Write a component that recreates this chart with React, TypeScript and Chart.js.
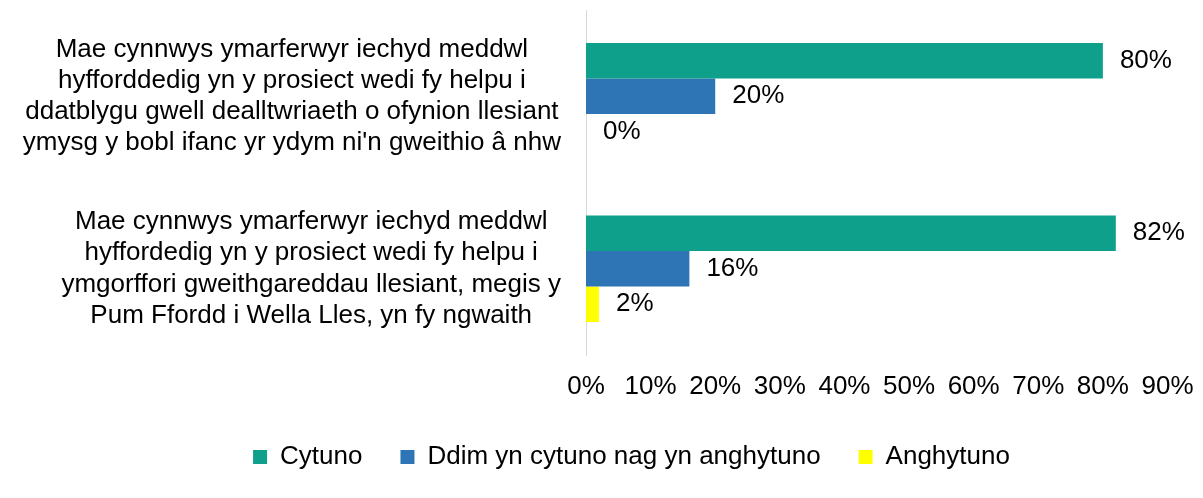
import React, { useEffect, useRef } from "react";
import { Chart, registerables } from "chart.js";

Chart.register(...registerables);

const categories: string[][] = [
  [
    "Mae cynnwys ymarferwyr iechyd meddwl",
    "hyfforddedig yn y prosiect wedi fy helpu i",
    "ddatblygu gwell dealltwriaeth o ofynion llesiant",
    "ymysg y bobl ifanc yr ydym ni'n gweithio â nhw",
  ],
  [
    "Mae cynnwys ymarferwyr iechyd meddwl",
    "hyffordedig yn y prosiect wedi fy helpu i",
    "ymgorffori gweithgareddau llesiant, megis y",
    "Pum Ffordd i Wella Lles, yn fy ngwaith",
  ],
];

const seriesNames = ["Cytuno", "Ddim yn cytuno nag yn anghytuno", "Anghytuno"];
const cytuno = [80, 82];
const ddim = [20, 16];
const anghytuno = [0, 2];
const seriesColors = ["#0FA08C", "#2E75B6", "#FFFF00"];

const xMin = 0;
const xMax = 90;
const xStep = 10;

const FONT = "'Liberation Sans', Arial, sans-serif";
const LABEL_SIZE = 26;

const dataLabelPlugin = {
  id: "dataLabels",
  afterDatasetsDraw(chart: any) {
    const ctx = chart.ctx;
    ctx.save();
    ctx.font = `${LABEL_SIZE}px ${FONT}`;
    ctx.fillStyle = "#000000";
    ctx.textAlign = "left";
    ctx.textBaseline = "middle";
    chart.data.datasets.forEach((ds: any, di: number) => {
      const meta = chart.getDatasetMeta(di);
      meta.data.forEach((bar: any, i: number) => {
        const v = ds.data[i];
        ctx.fillText(`${v}%`, bar.x + 17, bar.y);
      });
    });
    ctx.restore();
  },
};

// let the long category labels use the whole left margin, and centre each
// category's block of lines on its own widest line (block sits next to the axis)
const labelAreaPlugin = {
  id: "labelArea",
  afterLayout(chart: any) {
    if (chart.scales.y) chart.scales.y.left = 0;
  },
  beforeDraw(chart: any) {
    const scale = chart.scales.y;
    if (!scale) return;
    const items = scale.getLabelItems();
    const ctx = chart.ctx;
    ctx.save();
    ctx.font = `${LABEL_SIZE}px ${FONT}`;
    items.forEach((item: any) => {
      const lines = Array.isArray(item.label) ? item.label : [item.label];
      const w = Math.max(...lines.map((l: string) => ctx.measureText(l).width));
      item.options.translation[0] = scale.right - scale.options.ticks.padding - w / 2;
    });
    ctx.restore();
  },
};

export default function App() {
  const canvasRef = useRef<HTMLCanvasElement | null>(null);

  useEffect(() => {
    document.body.style.margin = "0";
    const canvas = canvasRef.current;
    if (!canvas) return;
    const chart = new Chart(canvas, {
      type: "bar",
      data: {
        labels: categories,
        datasets: [
          { label: seriesNames[0], data: cytuno, backgroundColor: seriesColors[0] },
          { label: seriesNames[1], data: ddim, backgroundColor: seriesColors[1] },
          { label: seriesNames[2], data: anghytuno, backgroundColor: seriesColors[2] },
        ].map((d) => ({ ...d, borderWidth: 0, barPercentage: 1, categoryPercentage: 0.618 })),
      },
      options: {
        indexAxis: "y",
        animation: false,
        responsive: true,
        maintainAspectRatio: false,
        layout: { padding: { top: 10, left: 95.5, right: 35.5, bottom: 18 } },
        plugins: {
          tooltip: { enabled: false },
          legend: {
            position: "bottom",
            labels: {
              font: { family: FONT, size: LABEL_SIZE },
              color: "#000000",
              boxWidth: 14,
              boxHeight: 14,
              padding: 38,
            },
          },
        },
        scales: {
          x: {
            type: "linear",
            min: xMin,
            max: xMax,
            grid: { display: false },
            border: { display: false },
            ticks: {
              stepSize: xStep,
              padding: 8,
              color: "#000000",
              font: { family: FONT, size: LABEL_SIZE },
              callback: (v: any) => `${v}%`,
            },
            afterFit: (scale: any) => {
              scale.height = 51;
              scale.paddingLeft = 0;
              scale.paddingRight = 0;
            },
          },
          y: {
            type: "category",
            grid: { display: false },
            border: { display: true, color: "#D9D9D9", width: 1 },
            ticks: {
              padding: 25,
              crossAlign: "center",
              color: "#000000",
              font: { family: FONT, size: LABEL_SIZE, lineHeight: 1.2 },
            },
            afterFit: (scale: any) => {
              scale.width = 490.5;
              scale.paddingTop = 0;
              scale.paddingBottom = 0;
            },
          },
        },
      },
      plugins: [dataLabelPlugin, labelAreaPlugin],
    } as any);
    return () => chart.destroy();
  }, []);

  return (
    <div style={{ width: "1203px", height: "498px", position: "relative" }}>
      <canvas ref={canvasRef} />
    </div>
  );
}
